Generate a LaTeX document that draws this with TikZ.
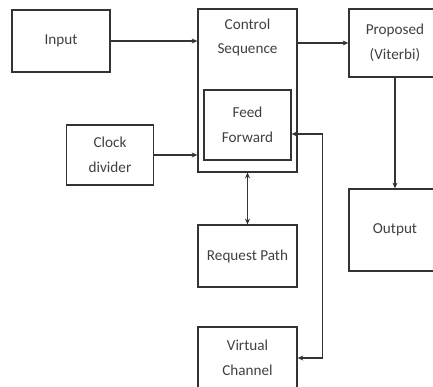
\documentclass[tikz,border=0pt]{standalone}
\usepackage{fontspec}
\setmainfont{Carlito}
\usetikzlibrary{arrows.meta, positioning, calc}

\begin{document}
\begin{tikzpicture}[
  x=0.025cm, y=-0.025cm,
  box/.style={draw=black!80, line width=0.9pt, align=center, font=\fontsize{10.8}{17.5}\selectfont, text=black!75, inner sep=1pt},
  arrow/.style={-{Stealth[length=4pt, width=3.5pt]}, line width=0.9pt, draw=black!80},
  biarrow/.style={{Stealth[length=4pt, width=3.5pt]}-{Stealth[length=4pt, width=3.5pt]}, line width=0.9pt, draw=black!80}
]
\useasboundingbox (0,0) rectangle (433,387);

\node[box, minimum width=2.45cm, minimum height=1.55cm] (input) at (61, 41) {Input};
\node[box, minimum width=2.475cm, minimum height=4.075cm] (ctrl) at (247.5, 90.5) {};
\node[font=\fontsize{10.8}{17.5}\selectfont, text=black!75, align=center] (ctrltext) at (247.5, 37.5) {Control\\Sequence};
\node[box, minimum width=2.175cm, minimum height=1.75cm] (ff) at (247.5, 125) {Feed\\Forward};
\node[box, minimum width=2.3cm, minimum height=1.7cm] (prop) at (395, 43) {Proposed\\(Viterbi)};
\node[box, minimum width=2.175cm, minimum height=1.5cm] (clk) at (110, 155) {Clock\\divider};
\node[box, minimum width=2.475cm, minimum height=1.55cm] (req) at (247.5, 256) {Request Path};
\node[box, minimum width=2.475cm, minimum height=1.55cm] (vc) at (247.5, 358) {Virtual\\Channel};
\node[box, minimum width=2.3cm, minimum height=2.05cm] (out) at (395, 230) {Output};

\draw[arrow] (input.east) -- (input.east -| ctrl.west);
\draw[arrow] (ctrl.east |- prop.west) -- (prop.west);
\draw[arrow] (clk.east) -- (clk.east -| ctrl.west);
\draw[arrow] (prop) -- (out);
\draw[biarrow] (ctrl.south) -- (req.north);

% loop back from the virtual channel
\coordinate (ffin) at ($(ff.east)+(0,9)$);
\draw[biarrow] (ffin) -- ++(31,0) |- (vc.east);
\end{tikzpicture}
\end{document}
